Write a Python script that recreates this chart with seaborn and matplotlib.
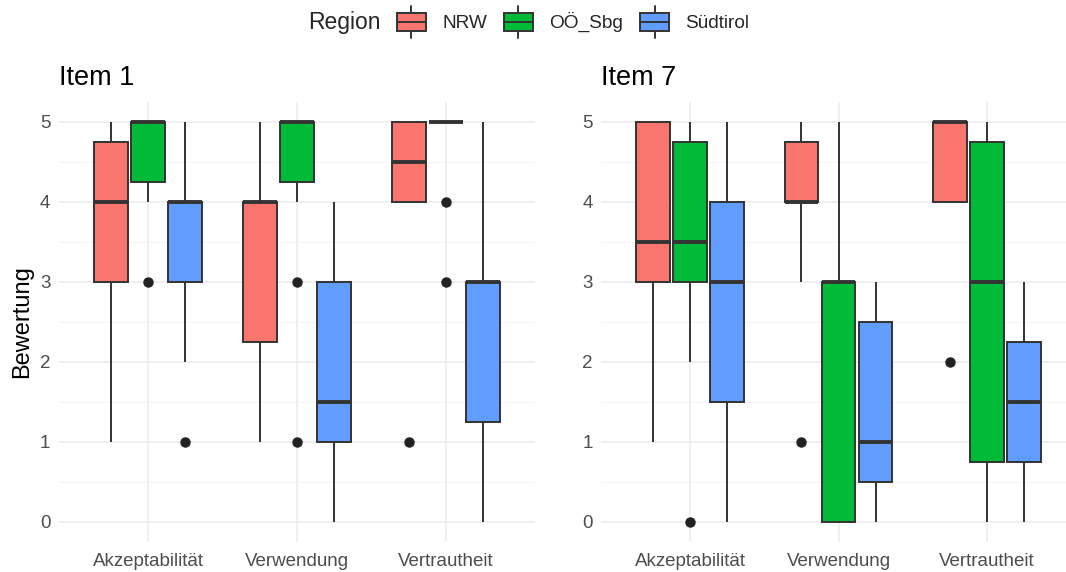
import matplotlib

matplotlib.use("Agg")

import matplotlib.pyplot as plt
import pandas as pd
import seaborn as sns
from matplotlib.legend_handler import HandlerBase
from matplotlib.lines import Line2D
from matplotlib.patches import Patch, Rectangle
from matplotlib.ticker import MultipleLocator


OUTPUT_FILE = "out.png"

ASPECTS = ["Akzeptabilität", "Verwendung", "Vertrautheit"]
REGIONS = ["NRW", "OÖ_Sbg", "Südtirol"]
COLORS = ["#F8766D", "#00BA38", "#619CFF"]
ITEM_TITLES = ["Item 1", "Item 7"]
Y_TICKS = [0, 1, 2, 3, 4, 5]

# Bewertungen je Aspekt (Akzeptabilität, Verwendung, Vertrautheit)
item1_nrw = [[1, 2, 3, 3, 4, 4, 4, 5, 5, 5], [1, 1, 2, 3, 4, 4, 4, 4, 5, 5], [1, 4, 4, 4, 4, 5, 5, 5, 5, 5]]
item1_ooe = [[3, 4, 4, 5, 5, 5, 5, 5, 5, 5], [1, 3, 4, 5, 5, 5, 5, 5, 5, 5], [3, 4, 5, 5, 5, 5, 5, 5, 5, 5]]
item1_sued = [[1, 2, 3, 3, 4, 4, 4, 4, 4, 5], [0, 1, 1, 1, 1, 2, 3, 3, 3, 4], [0, 1, 1, 2, 3, 3, 3, 3, 4, 5]]

item7_nrw = [[1, 2, 3, 3, 3, 4, 5, 5, 5, 5], [1, 3, 4, 4, 4, 4, 4, 5, 5, 5], [2, 4, 4, 4, 5, 5, 5, 5, 5, 5]]
item7_ooe = [[0, 2, 3, 3, 3, 4, 4, 5, 5, 5], [0, 0, 0, 0, 3, 3, 3, 3, 4, 5], [0, 0, 0, 3, 3, 3, 4, 5, 5, 5]]
item7_sued = [[0, 1, 1, 3, 3, 3, 4, 4, 5, 5], [0, 0, 1, 1, 2, 3, 3], [0, 1, 2, 3]]

EDGE = "#333333"
W, H = 1066, 572


def build_frame() -> pd.DataFrame:
	items = {
		"Item 1": [item1_nrw, item1_ooe, item1_sued],
		"Item 7": [item7_nrw, item7_ooe, item7_sued],
	}
	rows = []
	for item, per_region in items.items():
		for region, per_aspect in zip(REGIONS, per_region):
			for aspect, values in zip(ASPECTS, per_aspect):
				for v in values:
					rows.append({"Item": item, "Aspekt": aspect, "Region": region, "Bewertung": v})
	return pd.DataFrame(rows)


class BoxKey(HandlerBase):
	def create_artists(self, legend, orig_handle, xdescent, ydescent, width, height, fontsize, trans):
		x0, y0 = -xdescent, -ydescent
		cx = x0 + width / 2
		ymid = y0 + height / 2
		bh = height * 0.6
		whisk = Line2D([cx, cx], [y0, y0 + height], color=EDGE, lw=1.4, transform=trans)
		box = Rectangle(
			(x0, ymid - bh / 2), width, bh,
			facecolor=orig_handle.get_facecolor(), edgecolor=EDGE, lw=1.4, transform=trans,
		)
		med = Line2D([x0, x0 + width], [ymid, ymid], color=EDGE, lw=1.4, transform=trans)
		return [whisk, box, med]


def main() -> None:
	df = build_frame()

	sns.set_theme(style="white")
	plt.rcParams["font.family"] = ["Liberation Sans", "DejaVu Sans"]

	fig = plt.figure(figsize=(W / 100, H / 100), dpi=100)
	panels = [
		fig.add_axes([58.6 / W, 30 / H, 476.8 / W, 440 / H]),
		fig.add_axes([600.9 / W, 30 / H, 475.2 / W, 440 / H]),
	]

	for ax, title in zip(panels, ITEM_TITLES):
		sub = df[df["Item"] == title]
		sns.boxplot(
			data=sub,
			x="Aspekt",
			y="Bewertung",
			hue="Region",
			order=ASPECTS,
			hue_order=REGIONS,
			palette=COLORS,
			saturation=1,
			width=0.75,
			gap=0.1,
			linecolor=EDGE,
			linewidth=1.4,
			fliersize=6.5,
			flierprops={"marker": "o", "markerfacecolor": "#222222", "markeredgecolor": "#222222"},
			medianprops={"linewidth": 2.8, "color": EDGE},
			capprops={"visible": False},
			legend=False,
			ax=ax,
		)
		ax.set_xlim(-0.6, 2.6)
		ax.set_ylim(-0.25, 5.25)
		ax.set_yticks(Y_TICKS)
		ax.yaxis.set_minor_locator(MultipleLocator(0.5))
		ax.set_axisbelow(True)
		ax.grid(True, which="major", axis="both", color="#EBEBEB", linewidth=1.1)
		ax.grid(True, which="minor", axis="y", color="#F4F4F4", linewidth=0.7)
		for spine in ax.spines.values():
			spine.set_visible(False)
		ax.tick_params(axis="both", which="both", length=0, labelsize=13.5, labelcolor="#4D4D4D")
		ax.tick_params(axis="y", pad=6)
		ax.tick_params(axis="x", pad=8)
		ax.set_xlabel("")
		ax.set_ylabel("")
		ax.set_title(title, loc="left", fontsize=19.5, color="black", pad=12)

	panels[0].set_ylabel("Bewertung", fontsize=17, color="black")
	panels[0].yaxis.set_label_coords(-0.054, 0.5)

	handles = [Patch(facecolor=c) for c in COLORS]
	fig.text(308 / W, 1 - 22 / H, "Region", fontsize=16.5, ha="left", va="center")
	fig.legend(
		handles,
		REGIONS,
		loc="center left",
		bbox_to_anchor=(397 / W, 1 - 22 / H),
		ncol=3,
		frameon=False,
		fontsize=13.7,
		handler_map={Patch: BoxKey()},
		handlelength=1.52,
		handleheight=2.13,
		handletextpad=0.85,
		columnspacing=0.9,
		borderpad=0,
		borderaxespad=0,
	)

	fig.savefig(OUTPUT_FILE, dpi=100)
	plt.close(fig)


if __name__ == "__main__":
	main()
